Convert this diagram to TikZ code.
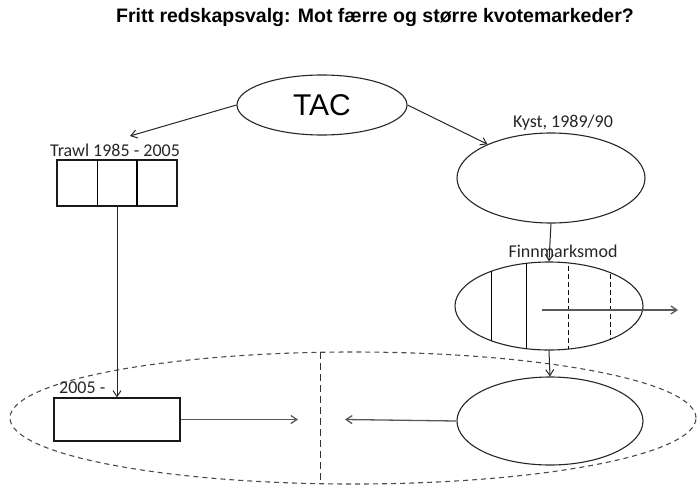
\documentclass[tikz,border=0pt]{standalone}
\usepackage{fontspec}
\setmainfont{Carlito}
\newfontfamily\arialfont{Liberation Sans}
\usetikzlibrary{shapes.geometric,arrows.meta}
\begin{document}
\begin{tikzpicture}[x=1pt,y=-1pt,
  oval/.style={draw=black!85, line width=1.1pt, ellipse, inner sep=0pt},
  boxed/.style={draw=black!90, line width=1.1pt, rectangle, inner sep=0pt},
  conn/.style={draw=black!85, line width=1pt, -{Straight Barb[length=6pt,width=8pt]}},
  lbl/.style={font=\fontsize{18}{18}\selectfont, inner sep=0pt, text=black!85},
  divider/.style={draw=black, line width=1pt},
]
\useasboundingbox (0,0) rectangle (698,487);
% title
\node[font=\arialfont\bfseries\fontsize{19.5}{20}\selectfont, inner sep=0pt] (title) at (375,18) {Fritt redskapsvalg: Mot færre og større kvotemarkeder?};
% market grouping
\node[ellipse, draw=black!70, line width=1.1pt, dash pattern=on 5pt off 4pt, minimum width=686pt, minimum height=132pt, inner sep=0pt] (market) at (353,418) {};
\draw[draw=black!80, line width=1pt, dash pattern=on 7pt off 4pt] (320,352) -- (320,481);
% TAC
\node[oval, minimum width=170pt, minimum height=60pt, font=\arialfont\fontsize{30}{30}\selectfont] (tac) at (322,105) {TAC};
% Trawl
\node[boxed, minimum width=120pt, minimum height=46pt] (trawl) at (117,183) {};
\draw[divider] (97,160) -- (97,206);
\draw[divider, line width=1.6pt] (137,160) -- (137,206);
\node[lbl, anchor=base] (trawllbl) at (115,156) {Trawl 1985 - 2005};
% Kyst
\node[oval, minimum width=188pt, minimum height=90pt] (kyst) at (551,178) {};
\node[lbl, anchor=base] (kystlbl) at (563,127) {Kyst, 1989/90};
% Finnmarksmod
\node[oval, minimum width=188pt, minimum height=88pt] (finn) at (549,306) {};
\begin{scope}
  \clip (549,306) ellipse [x radius=94pt, y radius=44pt];
  \draw[divider] (491,250) -- (491,360);
  \draw[divider] (526,250) -- (526,360);
  \draw[divider, dash pattern=on 5pt off 3pt] (568,250) -- (568,360);
  \draw[divider, dash pattern=on 5pt off 3pt] (610,250) -- (610,360);
\end{scope}
\node[lbl, anchor=base] (finnlbl) at (563,257) {Finnmarksmod};
% 2005 box
\node[boxed, minimum width=126pt, minimum height=43pt] (b2005) at (117,419.5) {};
\node[lbl, anchor=base west] (b2005lbl) at (59,393) {2005 -};
% bottom right ellipse
\node[oval, minimum width=186pt, minimum height=88pt] (kyst2) at (550,421) {};
% coordinates
\coordinate (trawlin) at (130,136);
\coordinate (midL) at (298,419.5);
\coordinate (midR) at (345,419.5);
\coordinate (fstart) at (542,310);
\coordinate (fend) at (678,310);
% connectors
\draw[conn] (tac.west) -- (trawlin);
\draw[conn] (tac.east) -- (kyst.152);
\draw[conn] (trawl.south) -- (b2005.north);
\draw[conn] (kyst.south) -- (finn.north);
\draw[conn] (finn.south) -- (kyst2.north);
\draw[conn, draw=black!65, line width=1.3pt] (b2005.east) -- (midL);
\draw[conn, draw=black!65, line width=1.3pt] (kyst2.west) -- (midR);
\draw[conn, draw=black!65, line width=1.3pt] (fstart) -- (fend);
\end{tikzpicture}
\end{document}
